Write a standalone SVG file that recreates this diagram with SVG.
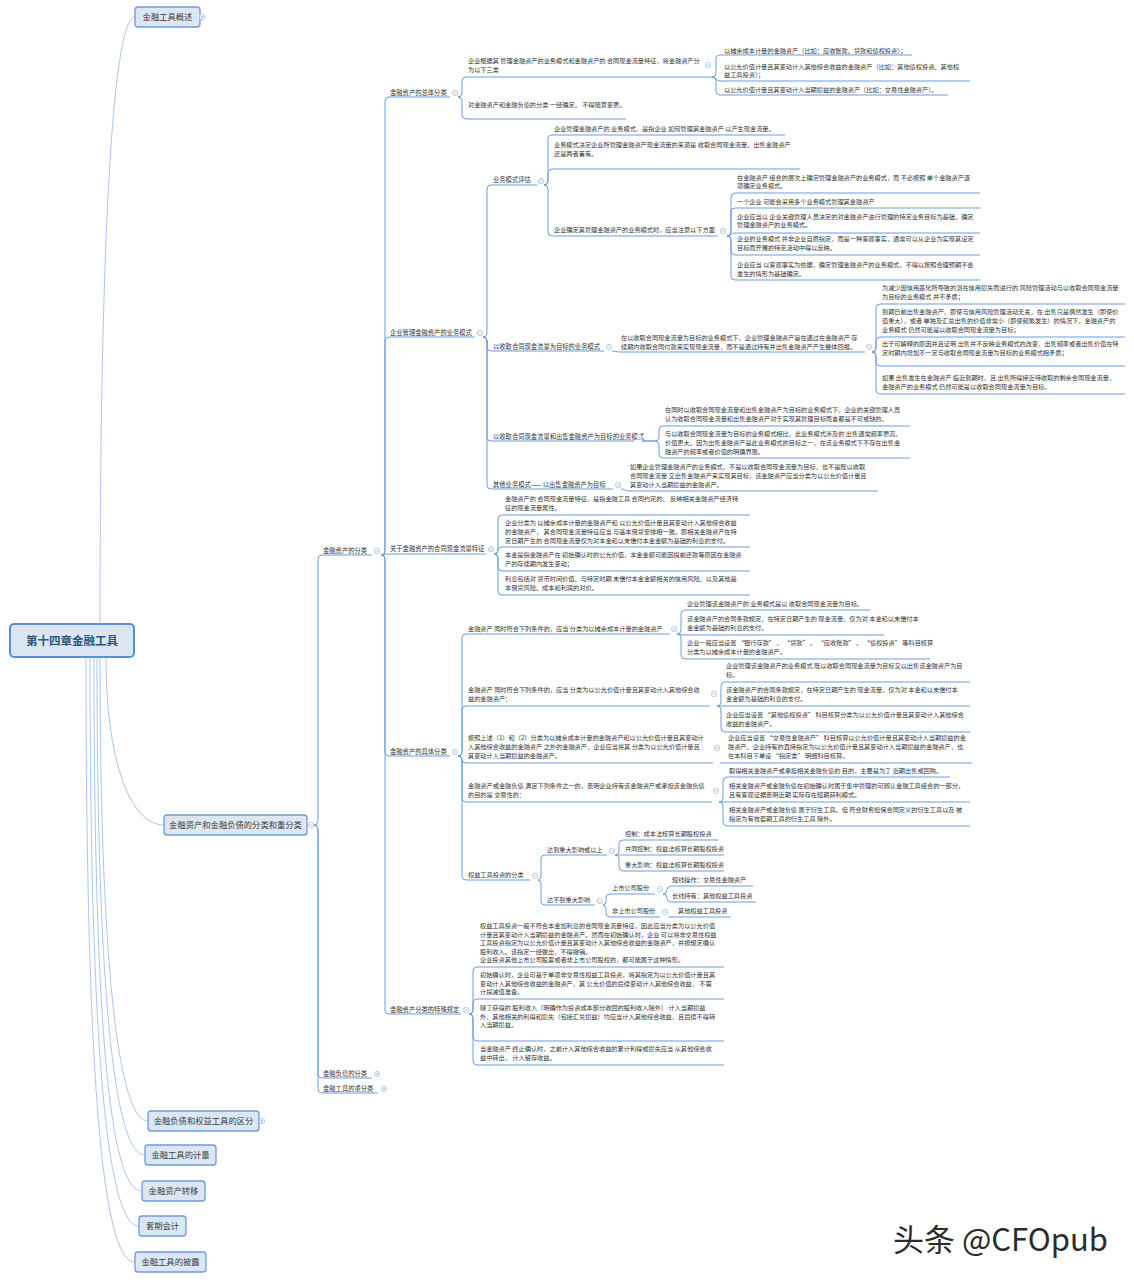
<svg xmlns="http://www.w3.org/2000/svg" width="1134" height="1280" viewBox="0 0 1134 1280">
<style>
text{font-family:"Noto Sans CJK SC","Noto Sans",sans-serif;fill:#333}
.t{font-size:6.2px}
.l{font-size:6.3px}
.b{font-size:8.3px;text-anchor:middle;fill:#3b3b3b}
.u{stroke:#6d9de0;stroke-width:1.2;fill:none}
.c{stroke:#6d9de0;stroke-width:1;fill:none}
.r{stroke:#a9c6ee;stroke-width:1;fill:none}
.box{fill:#dde7f4;stroke:#6c9bdc;stroke-width:1.3}
</style>
<defs>
<g id="im"><circle r="2.7" fill="#fff" stroke="#9db9e2" stroke-width="0.7"/><path d="M-1.5 0H1.5" stroke="#7f9fd0" stroke-width="0.6"/></g>
<g id="ip"><circle r="2.7" fill="#fff" stroke="#9db9e2" stroke-width="0.7"/><path d="M-1.5 0H1.5M0 -1.5V1.5" stroke="#7f9fd0" stroke-width="0.6"/></g>
</defs>
<rect width="1134" height="1280" fill="#fff"/>

<g id="connectors">
<path class="r" d="M100 624 C100 250 112 17 135 17"/>
<path class="r" d="M106 657 C106 760 130 825 164 825"/>
<path class="r" d="M100 657 C100 960 118 1121 148 1121"/>
<path class="r" d="M97 657 C97 1000 115 1155 145 1155"/>
<path class="r" d="M94 657 C94 1030 110 1191 142 1191"/>
<path class="r" d="M90 657 C90 1060 108 1226 139 1226"/>
<path class="r" d="M86 657 C86 1100 104 1262 135 1262"/>
<path class="c" d="M314 825 Q318 825 318 821 V559 Q318 555 322 555"/>
<path class="c" d="M314 825 Q318 825 318 829 V1074 Q318 1078 322 1078"/>
<path class="c" d="M314 825 Q318 825 318 829 V1089 Q318 1093 322 1093"/>
<path class="c" d="M381 555 Q385 555 385 551 V101 Q385 97 389 97"/>
<path class="c" d="M381 555 Q385 555 385 551 V341 Q385 337 389 337"/>
<path class="c" d="M381 555 C385 555 385 554 389 554"/>
<path class="c" d="M381 555 Q385 555 385 559 V752 Q385 756 389 756"/>
<path class="c" d="M381 555 Q385 555 385 559 V1010 Q385 1014 389 1014"/>
<path class="c" d="M458 97 Q462 97 462 93 V81 Q462 77 466 77"/>
<path class="c" d="M458 97 Q462 97 462 101 V115 Q462 119 466 119"/>
<path class="c" d="M712 77 Q716 77 716 73 V59 Q716 55 720 55"/>
<path class="c" d="M712 77 C716 77 716 81 720 81"/>
<path class="c" d="M712 77 Q716 77 716 81 V91 Q716 95 720 95"/>
<path class="c" d="M483 337 Q487 337 487 333 V189 Q487 185 491 185"/>
<path class="c" d="M483 337 Q487 337 487 341 V347 Q487 351 491 351"/>
<path class="c" d="M483 337 Q487 337 487 341 V437 Q487 441 491 441"/>
<path class="c" d="M483 337 Q487 337 487 341 V485 Q487 489 491 489"/>
<path class="c" d="M544 185 Q548 185 548 181 V139 Q548 135 552 135"/>
<path class="c" d="M544 185 Q548 185 548 181 V173 Q548 169 552 169"/>
<path class="c" d="M544 185 Q548 185 548 189 V232 Q548 236 552 236"/>
<path class="c" d="M727 236 Q731 236 731 232 V197 Q731 193 735 193"/>
<path class="c" d="M727 236 Q731 236 731 232 V212 Q731 208 735 208"/>
<path class="c" d="M727 236 C731 236 731 233 735 233"/>
<path class="c" d="M727 236 Q731 236 731 240 V251 Q731 255 735 255"/>
<path class="c" d="M727 236 Q731 236 731 240 V276 Q731 280 735 280"/>
<path class="c" d="M612 351 C616 351 616 352 620 352"/>
<path class="c" d="M872 352 Q876 352 876 348 V308 Q876 304 880 304"/>
<path class="c" d="M872 352 Q876 352 876 348 V341 Q876 337 880 337"/>
<path class="c" d="M872 352 Q876 352 876 356 V362 Q876 366 880 366"/>
<path class="c" d="M872 352 Q876 352 876 356 V390 Q876 394 880 394"/>
<path class="c" d="M642 441 H655 Q659 441 659 437 V430 Q659 426 663 426"/>
<path class="c" d="M642 441 H655 Q659 441 659 445 V454 Q659 458 663 458"/>
<path class="c" d="M621 489 C625 489 625 491 629 491"/>
<path class="c" d="M494 554 Q498 554 498 550 V519 Q498 515 502 515"/>
<path class="c" d="M494 554 Q498 554 498 550.5 Q498 547 502 547"/>
<path class="c" d="M494 554 Q498 554 498 558 V567 Q498 571 502 571"/>
<path class="c" d="M494 554 Q498 554 498 558 V591 Q498 595 502 595"/>
<path class="c" d="M458 756 Q462 756 462 752 V638 Q462 634 466 634"/>
<path class="c" d="M458 756 Q462 756 462 752 V710 Q462 706 466 706"/>
<path class="c" d="M458 756 Q462 756 462 759.5 Q462 763 466 763"/>
<path class="c" d="M458 756 Q462 756 462 760 V798 Q462 802 466 802"/>
<path class="c" d="M458 756 Q462 756 462 760 V876 Q462 880 466 880"/>
<path class="c" d="M677 634 Q681 634 681 630 V614 Q681 610 685 610"/>
<path class="c" d="M677 634 C681 634 681 635 685 635"/>
<path class="c" d="M677 634 Q681 634 681 638 V655 Q681 659 685 659"/>
<path class="c" d="M717 706 Q721 706 721 702 V686 Q721 682 725 682"/>
<path class="c" d="M717 706 L725 706"/>
<path class="c" d="M717 706 Q721 706 721 710 V728 Q721 732 725 732"/>
<path class="c" d="M720 763 L726 763"/>
<path class="c" d="M719 802 Q723 802 723 798 V781 Q723 777 727 777"/>
<path class="c" d="M719 802 L727 802"/>
<path class="c" d="M719 802 Q723 802 723 806 V822 Q723 826 727 826"/>
<path class="c" d="M538 880 Q541 880 541 876 V859 Q541 855 545 855"/>
<path class="c" d="M538 880 Q541 880 541 884 V901 Q541 905 545 905"/>
<path class="c" d="M615 855 Q619 855 619 851 V844 Q619 840 623 840"/>
<path class="c" d="M615 855 L623 855"/>
<path class="c" d="M615 855 Q619 855 619 859 V867 Q619 871 623 871"/>
<path class="c" d="M603 905 Q606 905 606 901 V898 Q606 894 610 894"/>
<path class="c" d="M603 905 Q606 905 606 909 V913 Q606 917 610 917"/>
<path class="c" d="M663 894 Q667 894 667 890 Q667 886 671 886"/>
<path class="c" d="M663 894 Q667 894 667 898 Q667 902 671 902"/>
<path class="c" d="M668 917 L675 917"/>
<path class="c" d="M469 1014 Q473 1014 473 1010 V971 Q473 967 477 967"/>
<path class="c" d="M469 1014 Q473 1014 473 1010 V1003 Q473 999 477 999"/>
<path class="c" d="M469 1014 Q473 1014 473 1018 V1037 Q473 1041 477 1041"/>
<path class="c" d="M469 1014 Q473 1014 473 1018 V1061 Q473 1065 477 1065"/>
</g>

<g id="root">
<rect x="10" y="624" width="124" height="33" rx="4" fill="#dce6f2" stroke="#5b8fd6" stroke-width="2"/>
<text x="72" y="645" text-anchor="middle" style="font-size:11.5px;font-weight:bold;fill:#2e5583">第十四章金融工具</text>
</g>

<g id="n-gaishu"><rect class="box" x="135" y="7" width="65" height="20" rx="3"/><text class="b" x="167.5" y="20">金融工具概述</text><use href="#ip" x="202" y="17"/></g>
<g id="n-fenlei"><rect class="box" x="164" y="815" width="143" height="20" rx="3"/><text class="b" x="235.5" y="828">金融资产和金融负债的分类和重分类</text><use href="#im" x="311" y="825"/></g>
<g id="n-qufen"><rect class="box" x="148" y="1111" width="111" height="20" rx="3"/><text class="b" x="203.5" y="1124">金融负债和权益工具的区分</text><use href="#ip" x="262" y="1121"/></g>
<g id="n-jiliang"><rect class="box" x="145" y="1145" width="71" height="20" rx="3"/><text class="b" x="180.5" y="1158">金融工具的计量</text></g>
<g id="n-zhuanyi"><rect class="box" x="142" y="1181" width="63" height="20" rx="3"/><text class="b" x="173.5" y="1194">金融资产转移</text></g>
<g id="n-taoqi"><rect class="box" x="139" y="1216" width="47" height="20" rx="3"/><text class="b" x="162.5" y="1229">套期会计</text></g>
<g id="n-pilu"><rect class="box" x="135" y="1252" width="71" height="20" rx="3"/><text class="b" x="170.5" y="1265">金融工具的披露</text></g>

<g id="n-zcfl"><text class="l" x="323" y="552.5">金融资产的分类</text><path class="u" d="M322 555H372"/><use href="#im" x="377" y="551"/></g>
<g id="n-fzfl"><text class="l" x="323" y="1075.5">金融负债的分类</text><path class="u" d="M322 1078H372"/><use href="#ip" x="377" y="1074"/></g>
<g id="n-cfl"><text class="l" x="323" y="1090.5">金融工具的重分类</text><path class="u" d="M322 1093H378"/><use href="#ip" x="384" y="1089"/></g>

<g id="n-zongti"><text class="l" x="390" y="94.5">金融资产的总体分类</text><path class="u" d="M389 97H450"/><use href="#im" x="455" y="93"/></g>
<g id="n-yewu"><text class="l" x="390" y="334.5">企业管理金融资产的业务模式</text><path class="u" d="M389 337H475"/><use href="#im" x="480" y="333"/></g>
<g id="n-tezheng"><text class="l" x="390" y="551">关于金融资产的合同现金流量特征</text><path class="u" d="M389 554H486"/><use href="#im" x="491" y="549"/></g>
<g id="n-juti"><text class="l" x="390" y="753.5">金融资产的具体分类</text><path class="u" d="M389 756H450"/><use href="#im" x="455" y="752"/></g>
<g id="n-teshu"><text class="l" x="390" y="1011.5">金融资产分类的特殊规定</text><path class="u" d="M389 1014H461"/><use href="#im" x="466" y="1010"/></g>

<g id="n-a1"><text class="t" x="468" y="63">企业根据其 管理金融资产的业务模式和金融资产的 合同现金流量特征，将金融资产分<tspan x="468" dy="9">为以下三类</tspan></text><path class="u" d="M466 77H712"/><use href="#im" x="708" y="65"/></g>
<g id="n-a2"><text class="t" x="468" y="106.5">对金融资产和金融负债的分类 一经确定， 不得随意变更。</text><path class="u" d="M466 119H626"/></g>
<g id="n-a1a"><text class="t" x="724" y="52.5">以摊余成本计量的金融资产（比如：应收账款、贷款和债权投资）；</text><path class="u" d="M720 55H912"/></g>
<g id="n-a1b"><text class="t" x="724" y="68.5">以公允价值计量且其变动计入其他综合收益的金融资产（比如：其他债权投资、其他权<tspan x="724" dy="8.5">益工具投资）；</tspan></text><path class="u" d="M720 81H970"/></g>
<g id="n-a1c"><text class="t" x="724" y="91.5">以公允价值计量且其变动计入当期损益的金融资产（比如：交易性金融资产）。</text><path class="u" d="M720 95H948"/></g>

<g id="n-b1"><text class="l" x="493" y="182">业务模式评估</text><path class="u" d="M491 185H537"/><use href="#im" x="541" y="181"/></g>
<g id="n-b2"><text class="l" x="493" y="348.5">以收取合同现金流量为目标的业务模式</text><path class="u" d="M491 351H604"/><use href="#im" x="609" y="347"/></g>
<g id="n-b3"><text class="l" x="493" y="438.5">以收取合同现金流量和出售金融资产为目标的业务模式</text><path class="u" d="M491 441H634"/><use href="#im" x="639" y="437"/></g>
<g id="n-b4"><text class="l" x="493" y="486.5">其他业务模式—— 以出售金融资产为目标</text><path class="u" d="M491 489H613"/><use href="#im" x="618" y="485"/></g>

<g id="n-b1a"><text class="t" x="554" y="130.5">企业管理金融资产的 业务模式，是指企业 如何管理其金融资产 以产生现金流量。</text><path class="u" d="M552 135H785"/></g>
<g id="n-b1b"><text class="t" x="554" y="146.5">业务模式决定企业所管理金融资产现金流量的来源是 收取合同现金流量、出售金融资产<tspan x="554" dy="9">还是两者兼有。</tspan></text><path class="u" d="M552 169H800"/></g>
<g id="n-b1c"><text class="t" x="554" y="231.5">企业确定其管理金融资产的业务模式时，应当注意以下方面</text><path class="u" d="M552 236H718"/><use href="#im" x="723" y="231"/></g>
<g id="n-b1c1"><text class="t" x="737" y="179.5">在金融资产 组合的层次上确定管理金融资产的业务模式，而 不必按照 单个金融资产逐<tspan x="737" dy="8.5">项确定业务模式。</tspan></text><path class="u" d="M735 193H980"/></g>
<g id="n-b1c2"><text class="t" x="737" y="203.5">一个企业 可能会采用多个业务模式管理其金融资产</text><path class="u" d="M735 208H980"/></g>
<g id="n-b1c3"><text class="t" x="737" y="218.5">企业应当以 企业关键管理人员决定的对金融资产进行管理的特定业务目标为基础，确定<tspan x="737" dy="8.5">管理金融资产的业务模式。</tspan></text><path class="u" d="M735 233H980"/></g>
<g id="n-b1c4"><text class="t" x="737" y="240.5">企业的业务模式 并非企业自愿指定，而是一种客观事实，通常可以从企业为实现其设定<tspan x="737" dy="9">目标而开展的特定活动中得以反映。</tspan></text><path class="u" d="M735 255H980"/></g>
<g id="n-b1c5"><text class="t" x="737" y="266.5">企业应当 以客观事实为依据，确定管理金融资产的业务模式，不得以按照合理预期不会<tspan x="737" dy="9">发生的情形为基础确定。</tspan></text><path class="u" d="M735 280H980"/></g>

<g id="n-b2a"><text class="t" x="621" y="340">在以收取合同现金流量为目标的业务模式下，企业管理金融资产旨在通过在金融资产 存<tspan x="621" dy="9">续期内收取合同付款来实现现金流量，而不是通过持有并出售金融资产产生整体回报。</tspan></text><path class="u" d="M620 352H865"/><use href="#im" x="869" y="347"/></g>
<g id="n-b2a1"><text class="t" x="882" y="290">为减少因信用恶化所导致的潜在信用损失而进行的 风险管理活动与以收取合同现金流量<tspan x="882" dy="9">为目标的业务模式 并不矛盾；</tspan></text><path class="u" d="M880 304H1125"/></g>
<g id="n-b2a2"><text class="t" x="882" y="314">到期日前出售金融资产，即使与信用风险管理活动无关，在 出售只是偶然发生（即使价<tspan x="882" dy="9">值重大），或者 单独及汇总出售的价值非常小（即使频繁发生）的情况下，金融资产的</tspan><tspan x="882" dy="9">业务模式 仍然可能是以收取合同现金流量为目标；</tspan></text><path class="u" d="M880 337H1125"/></g>
<g id="n-b2a3"><text class="t" x="882" y="346">出于可解释的原因并且证明 出售并不反映业务模式的改变，出售频率或者出售价值在特<tspan x="882" dy="9">定时期内增加不一定与收取合同现金流量为目标的业务模式相矛盾；</tspan></text><path class="u" d="M880 366H1125"/></g>
<g id="n-b2a4"><text class="t" x="882" y="380">如果 出售发生在金融资产 临近到期时，且 出售所得接近待收取的剩余合同现金流量，<tspan x="882" dy="8.5">金融资产的业务模式 仍然可能是以收取合同现金流量为目标。</tspan></text><path class="u" d="M880 394H1125"/></g>

<g id="n-b3a"><text class="t" x="665" y="412">在同时以收取合同现金流量和出售金融资产为目标的业务模式下，企业的关键管理人员<tspan x="665" dy="9">认为收取合同现金流量和出售金融资产对于实现其管理目标而言都是不可或缺的。</tspan></text><path class="u" d="M663 426H910"/></g>
<g id="n-b3b"><text class="t" x="665" y="436">与以收取合同现金流量为目标的业务模式相比，此业务模式涉及的 出售通常频率更高、<tspan x="665" dy="9">价值更大。因为出售金融资产是此业务模式的目标之一，在该业务模式下不存在出售金</tspan><tspan x="665" dy="8.5">融资产的频率或者价值的明确界限。</tspan></text><path class="u" d="M663 458H910"/></g>
<g id="n-b4a"><text class="t" x="630" y="469">如果企业管理金融资产的业务模式，不是以收取合同现金流量为目标，也不是既以收取<tspan x="630" dy="9">合同现金流量 又出售金融资产来实现其目标，该金融资产应当分类为以公允价值计量且</tspan><tspan x="630" dy="8.5">其变动计入当期损益的金融资产。</tspan></text><path class="u" d="M629 491H878"/></g>

<g id="n-c1"><text class="t" x="505" y="501">金融资产的 合同现金流量特征，是指金融工具 合同约定的、 反映相关金融资产经济特<tspan x="505" dy="9">征的现金流量属性。</tspan></text><path class="u" d="M502 515H750"/></g>
<g id="n-c2"><text class="t" x="505" y="525">企业分类为 以摊余成本计量的金融资产和 以公允价值计量且其变动计入其他综合收益<tspan x="505" dy="9">的金融资产， 其合同现金流量特征应当 与基本借贷安排相一致。即相关金融资产在特</tspan><tspan x="505" dy="8.5">定日期产生的 合同现金流量仅为对本金和以未偿付本金金额为基础的利息的支付。</tspan></text><path class="u" d="M502 547H750"/></g>
<g id="n-c3"><text class="t" x="505" y="557">本金是指金融资产在 初始确认时的公允价值，本金金额可能因提前还款等原因在金融资<tspan x="505" dy="9">产的存续期内发生变动；</tspan></text><path class="u" d="M502 571H750"/></g>
<g id="n-c4"><text class="t" x="505" y="581">利息包括对 货币时间价值、与特定时期 未偿付本金金额相关的信用风险、以及其他基<tspan x="505" dy="9">本借贷风险、成本和利润的对价。</tspan></text><path class="u" d="M502 595H750"/></g>

<g id="n-d1"><text class="t" x="468" y="630.5">金融资产 同时符合下列条件的，应当 分类为以摊余成本计量的金融资产</text><path class="u" d="M466 634H670"/><use href="#im" x="674" y="629"/></g>
<g id="n-d2"><text class="t" x="468" y="692">金融资产 同时符合下列条件的，应当 分类为以公允价值计量且其变动计入其他综合收<tspan x="468" dy="9">益的金融资产：</tspan></text><path class="u" d="M466 706H710"/><use href="#im" x="714" y="694"/></g>
<g id="n-d3"><text class="t" x="468" y="740">按照上述（1）和（2）分类为以摊余成本计量的金融资产和以公允价值计量且其变动计<tspan x="468" dy="9">入其他综合收益的金融资产 之外的金融资产，企业应当将其 分类为以公允价值计量且</tspan><tspan x="468" dy="8.5">其变动计入当期损益的金融资产。</tspan></text><path class="u" d="M466 763H713"/><use href="#im" x="717" y="748"/></g>
<g id="n-d4"><text class="t" x="468" y="788">金融资产或金融负债 满足下列条件之一的，表明企业持有该金融资产或承担该金融负债<tspan x="468" dy="9">的目的是 交易性的：</tspan></text><path class="u" d="M466 802H712"/><use href="#im" x="716" y="791"/></g>
<g id="n-d5"><text class="t" x="468" y="877">权益工具投资的分类</text><path class="u" d="M466 880H530"/><use href="#im" x="535" y="876"/></g>

<g id="n-d1a"><text class="t" x="687" y="606">企业管理该金融资产的 业务模式是以 收取合同现金流量为目标。</text><path class="u" d="M685 610H870"/></g>
<g id="n-d1b"><text class="t" x="687" y="621">该金融资产的合同条款规定，在特定日期产生的 现金流量，仅为对 本金和以未偿付本<tspan x="687" dy="9">金金额为基础的利息的支付。</tspan></text><path class="u" d="M685 635H884"/></g>
<g id="n-d1c"><text class="t" x="687" y="645">企业一般应当设置 “银行存款” 、 “贷款” 、 “应收账款” 、 “债权投资” 等科目核算<tspan x="687" dy="9">分类为以摊余成本计量的金融资产。</tspan></text><path class="u" d="M685 659H930"/></g>

<g id="n-d2a"><text class="t" x="726" y="668">企业管理该金融资产的业务模式 既以收取合同现金流量为目标又以出售该金融资产为目<tspan x="726" dy="9">标。</tspan></text><path class="u" d="M725 682H970"/></g>
<g id="n-d2b"><text class="t" x="726" y="692">该金融资产的合同条款规定，在特定日期产生的 现金流量，仅为对 本金和以未偿付本<tspan x="726" dy="9">金金额为基础的利息的支付。</tspan></text><path class="u" d="M725 706H970"/></g>
<g id="n-d2c"><text class="t" x="726" y="717">企业应当设置 “其他债权投资” 科目核算分类为以公允价值计量且其变动计入其他综合<tspan x="726" dy="9">收益的金融资产。</tspan></text><path class="u" d="M725 732H970"/></g>

<g id="n-d3a"><text class="t" x="728" y="740">企业应当设置 “交易性金融资产” 科目核算以公允价值计量且其变动计入当期损益的金<tspan x="728" dy="9">融资产。企业持有的直接指定为以公允价值计量且其变动计入当期损益的金融资产，也</tspan><tspan x="728" dy="8.5">在本科目下单设 “指定类” 明细科目核算。</tspan></text><path class="u" d="M726 763H972"/></g>

<g id="n-d4a"><text class="t" x="729" y="773">取得相关金融资产或承担相关金融负债的 目的，主要是为了 近期出售或回购。</text><path class="u" d="M727 777H950"/></g>
<g id="n-d4b"><text class="t" x="729" y="788">相关金融资产或金融负债在初始确认时属于集中管理的可辨认金融工具组合的一部分，<tspan x="729" dy="9">且有客观证据表明近期 实际存在短期获利模式。</tspan></text><path class="u" d="M727 802H970"/></g>
<g id="n-d4c"><text class="t" x="729" y="812">相关金融资产或金融负债 属于衍生工具。但 符合财务担保合同定义的衍生工具以及 被<tspan x="729" dy="9">指定为有效套期工具的衍生工具 除外。</tspan></text><path class="u" d="M727 826H970"/></g>

<g id="n-e1"><text class="t" x="547" y="852">达到重大影响或以上</text><path class="u" d="M545 855H607"/><use href="#im" x="612" y="851"/></g>
<g id="n-e2"><text class="t" x="547" y="902">达不到重大影响</text><path class="u" d="M545 905H595"/><use href="#im" x="600" y="901"/></g>
<g id="n-e1a"><text class="t" x="625" y="836">控制：成本法核算长期股权投资</text><path class="u" d="M623 840H718"/></g>
<g id="n-e1b"><text class="t" x="625" y="851">共同控制：权益法核算长期股权投资</text><path class="u" d="M623 855H724"/></g>
<g id="n-e1c"><text class="t" x="625" y="867">重大影响：权益法核算长期股权投资</text><path class="u" d="M623 871H724"/></g>
<g id="n-f1"><text class="t" x="612" y="890">上市公司股份</text><path class="u" d="M610 894H655"/><use href="#im" x="660" y="889"/></g>
<g id="n-f2"><text class="t" x="612" y="913">非上市公司股份</text><path class="u" d="M610 917H660"/><use href="#im" x="665" y="912"/></g>
<g id="n-f1a"><text class="t" x="672" y="882">短线操作：交易性金融资产</text><path class="u" d="M671 886H753"/></g>
<g id="n-f1b"><text class="t" x="672" y="898">长线持有：其他权益工具投资</text><path class="u" d="M671 902H756"/></g>
<g id="n-f2a"><text class="t" x="678" y="913">其他权益工具投资</text><path class="u" d="M675 917H731"/></g>

<g id="n-g1"><text class="t" x="480" y="928">权益工具投资一般不符合本金加利息的合同现金流量特征，因此应当分类为以公允价值<tspan x="480" dy="8.5">计量且其变动计入当期损益的金融资产。然而在初始确认时，企业 可以将非交易性权益</tspan><tspan x="480" dy="8.5">工具投资指定为以公允价值计量且其变动计入其他综合收益的金融资产，并按规定确认</tspan><tspan x="480" dy="8.5">股利收入。该指定一经做出，不得撤销。</tspan><tspan x="480" dy="8.5">企业投资其他上市公司股票或者非上市公司股权的，都可能属于这种情形。</tspan></text><path class="u" d="M477 967H724"/></g>
<g id="n-g2"><text class="t" x="480" y="977">初始确认时，企业可基于单项非交易性权益工具投资，将其指定为以公允价值计量且其<tspan x="480" dy="8.5">变动计入其他综合收益的金融资产，其 公允价值的后续变动计入其他综合收益， 不需</tspan><tspan x="480" dy="8.5">计提减值准备。</tspan></text><path class="u" d="M477 999H724"/></g>
<g id="n-g3"><text class="t" x="480" y="1010">除了获得的 股利收入（明确作为投资成本部分收回的股利收入除外） 计入当期损益<tspan x="480" dy="8.5">外，其他相关的利得和损失（包括汇兑损益）均应当计入其他综合收益，且后续不得转</tspan><tspan x="480" dy="8.5">入当期损益。</tspan></text><path class="u" d="M477 1041H724"/></g>
<g id="n-g4"><text class="t" x="480" y="1051">当金融资产 终止确认时，之前计入其他综合收益的累计利得或损失应当 从其他综合收<tspan x="480" dy="9">益中转出， 计入留存收益。</tspan></text><path class="u" d="M477 1065H724"/></g>

<text x="893" y="1251" style="font-size:31px;fill:#2b2b2b">头条 @CFOpub</text>
</svg>
